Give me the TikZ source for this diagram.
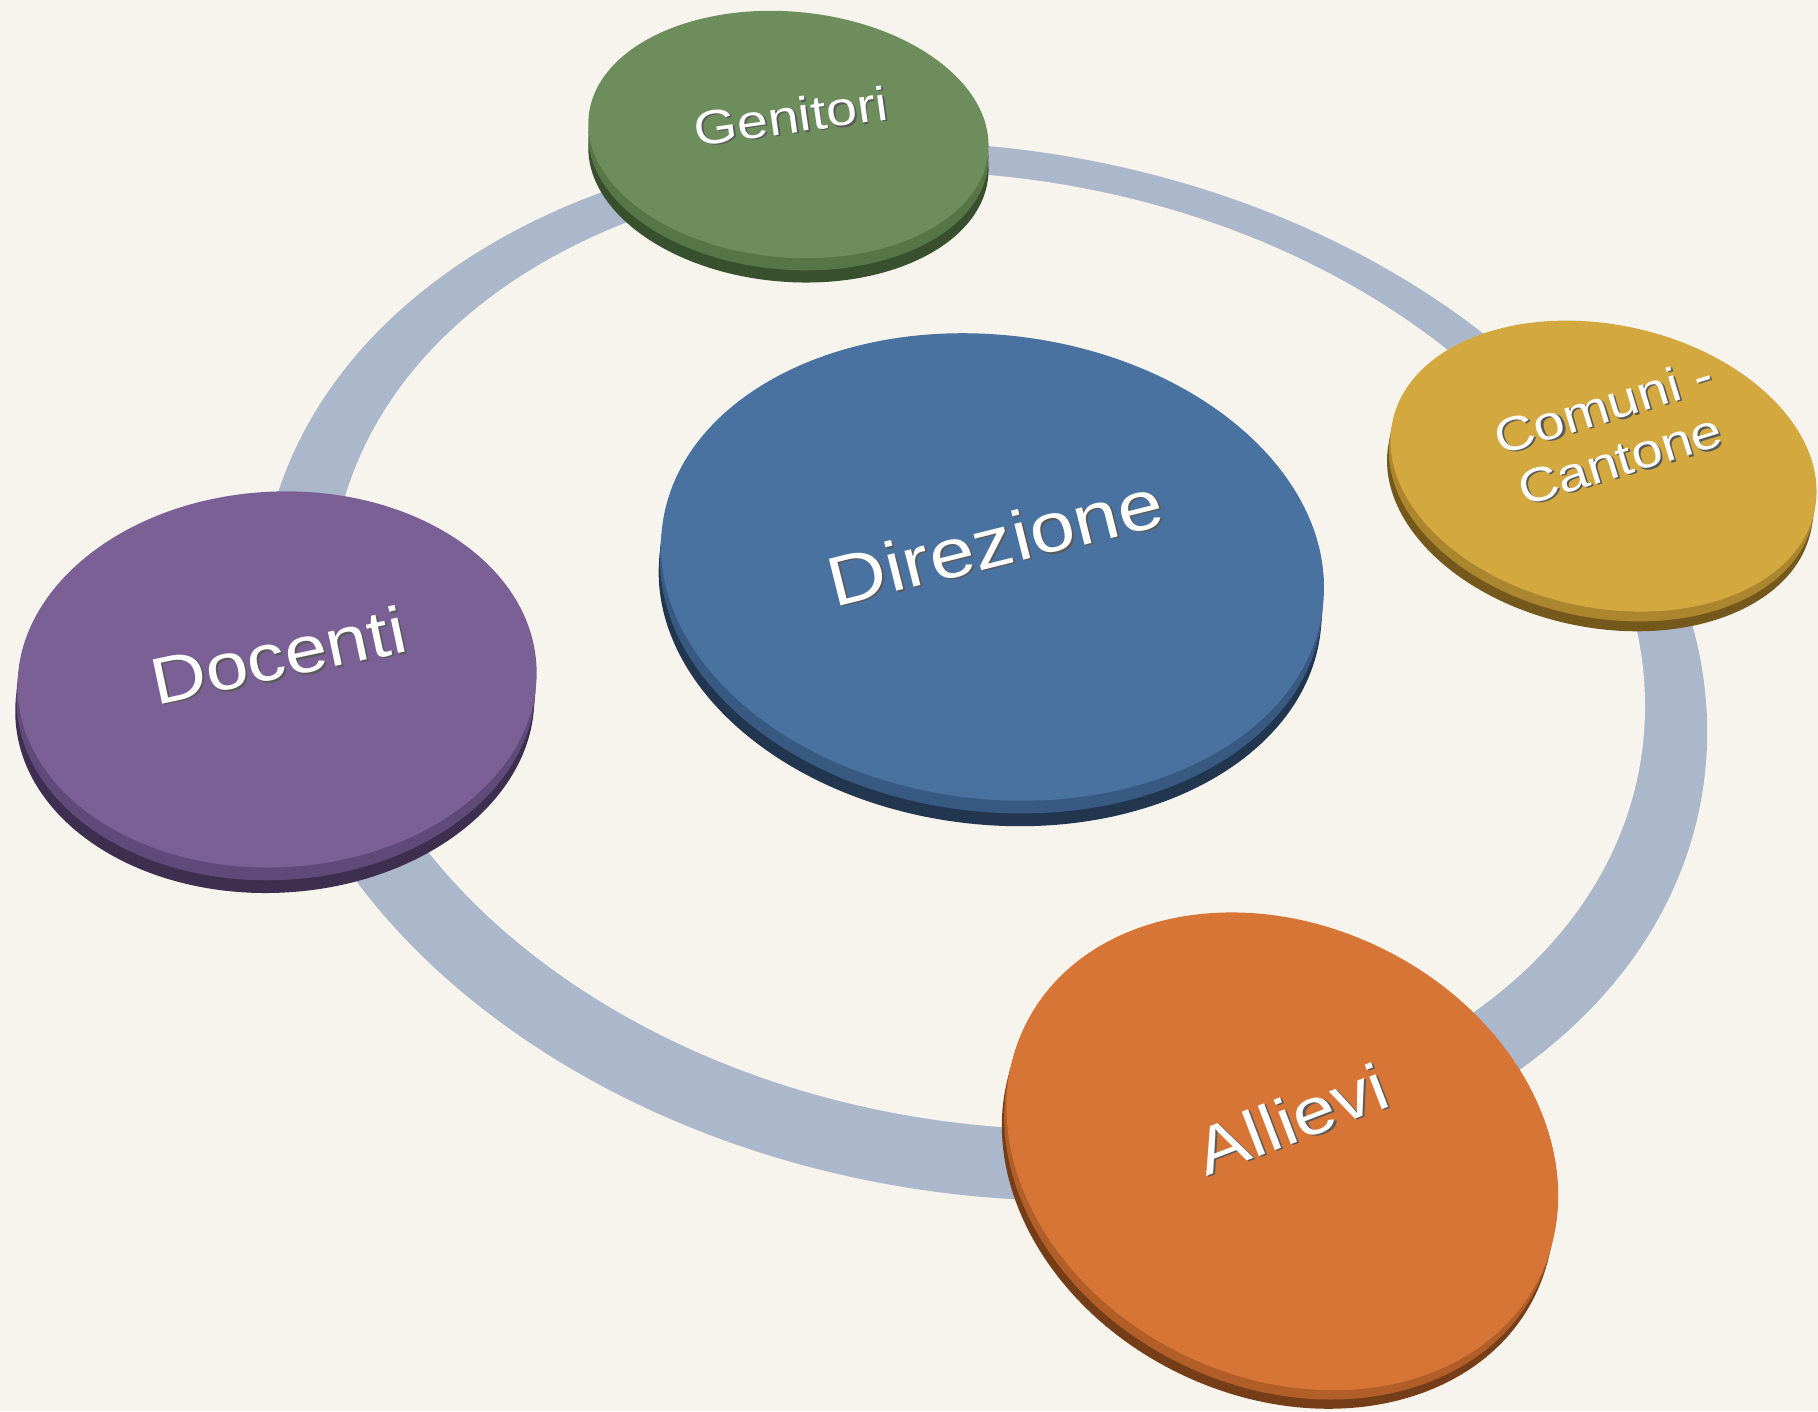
\documentclass[tikz,border=0pt]{standalone}
\usepackage{fontspec}
\setmainfont{Liberation Sans}
\definecolor{bg}{RGB}{247,244,238}
\definecolor{ringc}{RGB}{171,183,202}
\definecolor{shadowc}{RGB}{90,90,90}
\definecolor{gentop}{RGB}{109,142,92}
\definecolor{genmid}{RGB}{86,118,72}
\definecolor{gendark}{RGB}{56,80,46}
\definecolor{comtop}{RGB}{210,168,63}
\definecolor{commid}{RGB}{172,134,46}
\definecolor{comdark}{RGB}{116,88,28}
\definecolor{doctop}{RGB}{123,96,150}
\definecolor{docmid}{RGB}{96,74,122}
\definecolor{docdark}{RGB}{62,46,80}
\definecolor{dirtop}{RGB}{74,114,160}
\definecolor{dirmid}{RGB}{56,90,130}
\definecolor{dirdark}{RGB}{34,54,80}
\definecolor{alltop}{RGB}{214,117,53}
\definecolor{allmid}{RGB}{178,94,40}
\definecolor{alldark}{RGB}{118,62,24}
% disc: cx cy a b rot dx dy colourprefix
\newcommand\mydisc[8]{%
  \begin{scope}[shift={(#1,#2)}]
    \fill[#8dark,shift={(#6,#7)},rotate=#5] (0,0) ellipse [x radius=#3,y radius=#4];
    \fill[#8mid,shift={({0.5*(#6)},{0.5*(#7)})},rotate=#5] (0,0) ellipse [x radius=#3,y radius=#4];
    \fill[#8top,rotate=#5] (0,0) ellipse [x radius=#3,y radius=#4];
  \end{scope}}
% label (embossed: grey relief under white text): name x y rot size skip text
\newcommand\mylab[7]{%
  \begin{scope}[shift={(#2,#3)},rotate=#4,yscale=0.86]
    \node[transform shape,inner sep=0pt,align=center,text=shadowc,
          font=\fontsize{#5}{#6}\selectfont] at (1.4,1.8) {#7};
    \node[transform shape,inner sep=0pt,align=center,text=white,
          font=\fontsize{#5}{#6}\selectfont] (#1) at (0,0) {#7};
  \end{scope}}
\begin{document}
\begin{tikzpicture}[x=1pt,y=-1pt]
\useasboundingbox (0,0) rectangle (1568,1217);
\fill[bg] (0,0) rectangle (1568,1217);
% ring: outer ellipse, then inner hole in background colour
\fill[ringc,shift={(848,579)},rotate=-10] (0,0) ellipse [x radius=629,y radius=450];
\fill[bg,shift={(852,561)},rotate=-10] (0,0) ellipse [x radius=571,y radius=407];
% discs
\mydisc{239}{586}{224}{162}{3}{-2}{22}{doc}
\mydisc{680}{116}{173}{106}{-5}{0}{21}{gen}
\mydisc{1383}{402}{186}{122}{-12}{-3}{17}{com}
\mydisc{856}{489}{287}{200}{-7}{-2}{22}{dir}
\mydisc{1106}{993}{247}{195}{-26}{-4}{16}{all}
% labels
\mylab{genitori}{682}{100}{8}{48}{58}{Genitori}
\mylab{comuni}{1390}{373}{17}{48}{56}{Comuni -\\Cantone}
\mylab{docenti}{240}{565}{12}{66}{79}{Docenti}
\mylab{direzione}{858}{467}{14}{70}{84}{Direzione}
\mylab{allievi}{1114}{965}{21}{66}{79}{Allievi}
\end{tikzpicture}
\end{document}
